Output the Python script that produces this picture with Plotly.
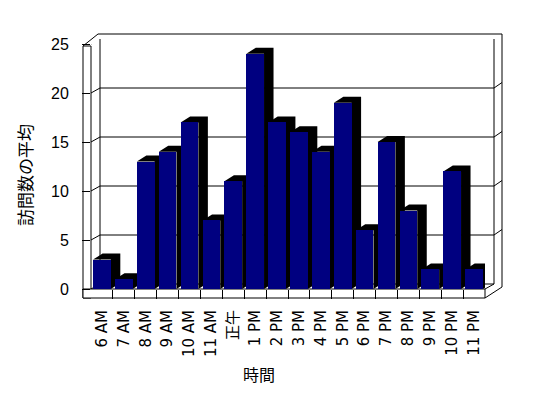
import plotly.graph_objects as go

# ---- data ----
categories = ["6 AM", "7 AM", "8 AM", "9 AM", "10 AM", "11 AM", "正午",
              "1 PM", "2 PM", "3 PM", "4 PM", "5 PM", "6 PM", "7 PM",
              "8 PM", "9 PM", "10 PM", "11 PM"]
visits = [3, 1, 13, 14, 17, 7, 11, 24, 17, 16, 14, 19, 6, 15, 8, 2, 12, 2]
y_ticks = [0, 5, 10, 15, 20, 25]
x_title = "時間"
y_title = "訪問数の平均"

# ---- layout geometry (pixels) ----
W, H = 548, 398
ML, MR, MT, MB = 91, 63, 44, 109
PW = W - ML - MR
PH = H - MT - MB
Y_MAX = 25


def px(x):
    return (x - ML) / PW


def py(y):
    return (H - MB - y) / PH


BAR_W = 0.81
DX = 9.5 / (PW / len(categories))   # bar depth in x units
DY = 6.0 / (PH / Y_MAX)             # bar depth in y units
idx = list(range(len(categories)))

fig = go.Figure()
fig.add_trace(go.Bar(
    x=idx, y=visits, width=BAR_W,
    marker=dict(color="#000080", line=dict(width=0)),
    showlegend=False, hoverinfo="x+y",
))

shapes = []
# 3-D top and side faces of each bar (black)
for i, v in zip(idx, visits):
    l, r = i - BAR_W / 2, i + BAR_W / 2
    path = (f"M{l},{v} L{l + DX},{v + DY} L{r + DX},{v + DY} "
            f"L{r + DX},{DY} L{r},0 L{r},{v} Z")
    shapes.append(dict(type="path", path=path, xref="x", yref="y",
                       fillcolor="black", line=dict(width=0), layer="below"))

line_style = dict(color="black", width=1)


def seg(x0, y0, x1, y1):
    shapes.append(dict(type="line", xref="paper", yref="paper",
                       x0=px(x0), y0=py(y0), x1=px(x1), y1=py(y1),
                       line=line_style, layer="below"))


# back-wall gridlines + left-wall diagonals + right wall thickness marks
for v in y_ticks:
    shapes.append(dict(type="line", xref="paper", yref="y", ysizemode="pixel",
                       yanchor=v, x0=px(100), x1=px(494), y0=5, y1=5,
                       line=line_style, layer="below"))
    shapes.append(dict(type="line", xref="paper", yref="y", ysizemode="pixel",
                       yanchor=v, x0=px(91), x1=px(100), y0=0, y1=5,
                       line=line_style, layer="below"))
    if v > 0:
        shapes.append(dict(type="line", xref="paper", yref="y", ysizemode="pixel",
                           yanchor=v, x0=px(494), x1=px(502), y0=5, y1=10.5,
                           line=line_style, layer="below"))

# walls & floor outlines
shapes.append(dict(type="rect", xref="paper", yref="paper",
                   x0=px(83), x1=px(91), y0=py(298), y1=py(46),
                   line=line_style, fillcolor="white", layer="below"))
seg(83, 46, 98, 34)
seg(98, 34, 502, 34)
seg(100, 39, 100, 284)
seg(494, 39, 494, 284)
seg(502, 34, 502, 287)
shapes.append(dict(type="rect", xref="paper", yref="paper",
                   x0=px(83), x1=px(485), y0=py(298), y1=py(289),
                   line=line_style, fillcolor="white", layer="below"))
seg(485, 298, 502, 287)
seg(485, 289, 494, 284)

fig.update_layout(
    width=W, height=H,
    margin=dict(l=ML, r=MR, t=MT, b=MB, pad=0),
    paper_bgcolor="white", plot_bgcolor="rgba(0,0,0,0)",
    shapes=shapes,
    bargap=0,
    xaxis=dict(
        range=[-0.5, len(categories) - 0.5],
        tickmode="array", tickvals=idx, ticktext=categories,
        tickangle=-90, ticks="",
        tickfont=dict(family="DejaVu Sans, Noto Sans CJK JP", size=15, color="black"),
        minor=dict(tickmode="array", tickvals=[i + 0.5 for i in idx[:-1]],
                   ticks="outside", ticklen=9, tickcolor="black", tickwidth=1),
        showgrid=False, zeroline=False, showline=False,
        ticklabelstandoff=17,
        fixedrange=True,
    ),
    yaxis=dict(
        range=[0, Y_MAX], tickmode="array", tickvals=y_ticks,
        ticks="outside", ticklen=8, tickcolor="black", tickwidth=1,
        tickfont=dict(family="Liberation Sans, Arial", size=16, color="black"),
        showgrid=False, zeroline=False, showline=False,
        ticklabelstandoff=10,
        fixedrange=True,
    ),
    annotations=[
        dict(text=x_title, xref="paper", yref="paper", x=px(259), y=py(374),
             showarrow=False, xanchor="center", yanchor="middle",
             font=dict(family="Noto Sans CJK JP", size=16, color="black")),
        dict(text=y_title, xref="paper", yref="paper", x=px(24), y=py(175),
             showarrow=False, xanchor="center", yanchor="middle", textangle=-90,
             font=dict(family="Noto Sans CJK JP", size=17, color="black")),
    ],
)

fig.write_html("out.html")
